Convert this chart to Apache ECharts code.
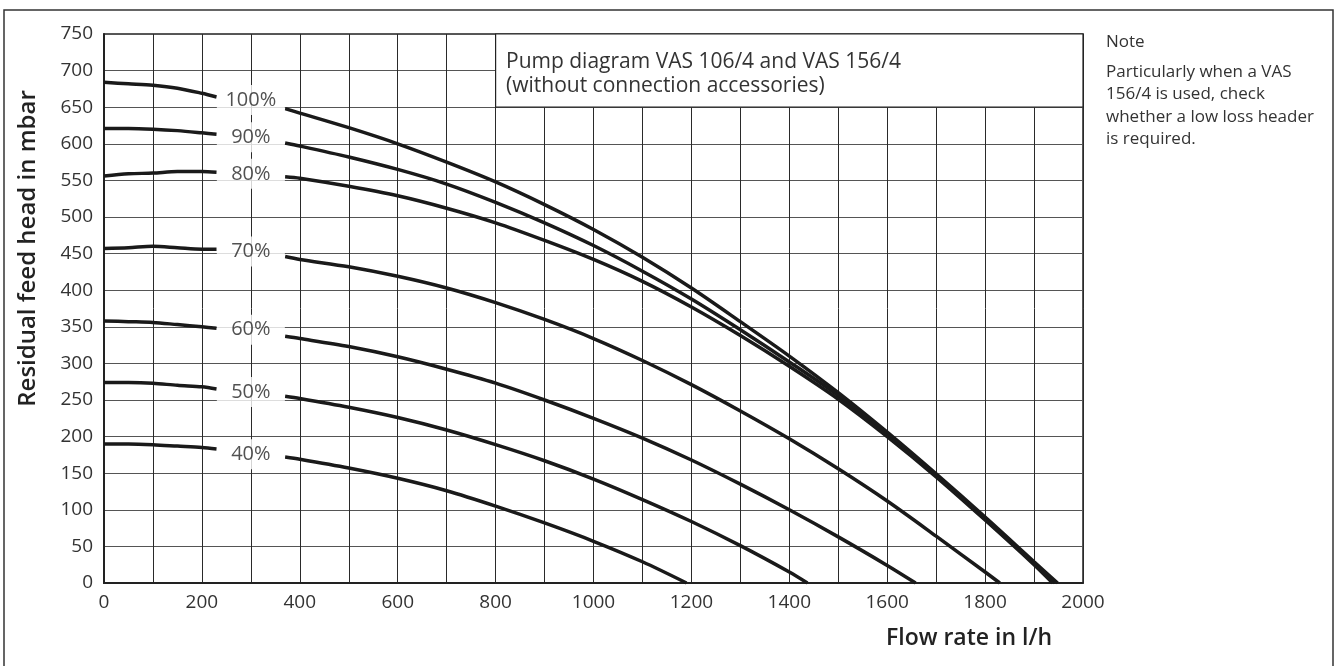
<!DOCTYPE html>
<html><head><meta charset="utf-8">
<script src="https://cdn.jsdelivr.net/npm/echarts@6/dist/echarts.min.js"></script>
<style>html,body{margin:0;padding:0;background:#fff}#c{width:1336px;height:666px}</style>
</head><body><div id="c"></div>
<script>
// ---- data ----
const flowLeft = [0, 50, 100, 150, 200, 230];
const head100L = [684, 682, 680, 676, 669, 664];
const head90L  = [621, 621, 620, 618, 615, 613];
const head80L  = [556, 559, 560, 562, 562, 561];
const head70L  = [457, 458, 460, 458, 456, 456];
const head60L  = [358, 357, 356, 353, 350, 348];
const head50L  = [274, 274, 273, 270, 268, 265];
const head40L  = [190, 190, 189, 187, 185, 183];

const flow100R = [370, 400, 500, 600, 700, 800, 900, 1000, 1100, 1200, 1300, 1400, 1500, 1600, 1700, 1800, 1900, 1948];
const head100R = [648, 642, 622, 600, 575, 548, 517, 483, 445, 403, 357, 310, 260, 206, 149, 90, 29, 0];
const flow90R  = [370, 400, 500, 600, 700, 800, 900, 1000, 1100, 1200, 1300, 1400, 1500, 1600, 1700, 1800, 1900, 1943];
const head90R  = [601, 597, 582, 565, 545, 520, 492, 461, 426, 388, 346, 302, 256, 203, 147, 87, 27, 0];
const flow80R  = [370, 400, 500, 600, 700, 800, 900, 1000, 1100, 1200, 1300, 1400, 1500, 1600, 1700, 1800, 1900, 1938];
const head80R  = [555, 553, 542, 529, 512, 492, 468, 442, 412, 377, 338, 296, 251, 200, 145, 86, 25, 0];
const flow70R  = [370, 400, 500, 600, 700, 800, 900, 1000, 1100, 1200, 1300, 1400, 1500, 1600, 1700, 1800, 1830];
const head70R  = [446, 442, 432, 419, 403, 383, 360, 334, 304, 271, 235, 197, 156, 112, 64, 15, 0];
const flow60R  = [370, 400, 500, 600, 700, 800, 900, 1000, 1100, 1200, 1300, 1400, 1500, 1600, 1658];
const head60R  = [337, 334, 323, 309, 292, 273, 250, 225, 198, 168, 135, 100, 63, 24, 0];
const flow50R  = [370, 400, 500, 600, 700, 800, 900, 1000, 1100, 1200, 1300, 1400, 1437];
const head50R  = [255, 252, 240, 226, 209, 189, 167, 142, 114, 84, 51, 15, 0];
const flow40R  = [370, 400, 500, 600, 700, 800, 900, 1000, 1100, 1190];
const head40R  = [172, 169, 157, 143, 126, 105, 82, 57, 29, 0];

const speedLabels = ['100%', '90%', '80%', '70%', '60%', '50%', '40%'];
const labelFlow = 300;
const labelHead = [660, 609, 559, 453, 346, 261, 176];

const titleLines = ['Pump diagram VAS 106/4 and VAS 156/4', '(without connection accessories)'];
const noteTitle = 'Note';
const noteLines = ['Particularly when a VAS', '156/4 is used, check', 'whether a low loss header', 'is required.'];

// ---- chart ----
const chart = echarts.init(document.getElementById('c'), null, {renderer: 'canvas'});
const curveColor = '#1a1a1a';
function curve(name, flows, heads) {
  return {
    type: 'line', name: name, silent: true, symbol: 'none', showSymbol: false,
    smooth: 0.3, z: 3,
    lineStyle: {color: curveColor, width: 3.5},
    data: flows.map((f, i) => [f, heads[i]])
  };
}
const series = [
  curve('100%', flowLeft, head100L), curve('100%', flow100R, head100R),
  curve('90%', flowLeft, head90L),   curve('90%', flow90R, head90R),
  curve('80%', flowLeft, head80L),   curve('80%', flow80R, head80R),
  curve('70%', flowLeft, head70L),   curve('70%', flow70R, head70R),
  curve('60%', flowLeft, head60L),   curve('60%', flow60R, head60R),
  curve('50%', flowLeft, head50L),   curve('50%', flow50R, head50R),
  curve('40%', flowLeft, head40L),   curve('40%', flow40R, head40R),
  {
    type: 'scatter', name: 'labels', silent: true, symbolSize: 0, z: 4,
    data: labelHead.map((h, i) => ({value: [labelFlow, h], name: speedLabels[i]})),
    label: {
      show: true, position: 'inside', formatter: p => p.name,
      color: '#262626', fontFamily: 'Open Sans', fontSize: 20,
      backgroundColor: '#fff', width: 68, height: 30, lineHeight: 30,
      align: 'center', verticalAlign: 'middle'
    },
    markArea: {
      silent: true,
      itemStyle: {color: '#fff', opacity: 1, borderColor: '#222', borderWidth: 1.2},
      label: {show: false},
      data: [[{coord: [800, 650]}, {coord: [2000, 750]}]]
    }
  }
];

const option = {
  animation: false,
  backgroundColor: '#fff',
  grid: {left: 104, top: 34, right: 253, bottom: 83, show: true, borderColor: '#222', borderWidth: 1.5, backgroundColor: 'transparent'},
  xAxis: {
    type: 'value', min: 0, max: 2000, interval: 200,
    name: 'Flow rate in l/h', nameLocation: 'end', nameGap: 0,
    nameTextStyle: {fontFamily: 'Open Sans', fontWeight: 600, fontSize: 23, color: '#222',
      align: 'right', verticalAlign: 'top', padding: [44, 31, 0, 0]},
    axisLine: {show: true, onZero: false, lineStyle: {color: '#222', width: 2}},
    axisTick: {show: false},
    axisLabel: {color: '#333', fontFamily: 'Open Sans', fontSize: 19, margin: 10, formatter: v => String(v)},
    splitLine: {show: true, lineStyle: {color: '#2a2a2a', width: 1}},
    minorTick: {show: false, splitNumber: 2},
    minorSplitLine: {show: true, lineStyle: {color: '#2a2a2a', width: 1}}
  },
  yAxis: {
    type: 'value', min: 0, max: 750, interval: 50,
    name: 'Residual feed head in mbar', nameLocation: 'middle', nameGap: 64,
    nameTextStyle: {fontFamily: 'Open Sans', fontWeight: 600, fontSize: 24, color: '#222',
      padding: [0, 0, 0, 120]},
    axisLine: {show: true, lineStyle: {color: '#222', width: 2}},
    axisTick: {show: false},
    axisLabel: {color: '#333', fontFamily: 'Open Sans', fontSize: 19, margin: 11, formatter: v => String(v)},
    splitLine: {show: true, lineStyle: {color: '#555', width: 1}}
  },
  graphic: [
    {type: 'rect', silent: true, z: -1, shape: {x: 4, y: 10, width: 1329, height: 700},
     style: {fill: 'none', stroke: '#333', lineWidth: 1.5}},
    {type: 'text', silent: true, z: 10, style: {x: 506, y: 50, text: titleLines.join('\n'),
      font: '21px "Open Sans"', lineHeight: 24, fill: '#333', textVerticalAlign: 'top'}},
    {type: 'text', silent: true, z: 10, style: {x: 1106, y: 31, text: noteTitle,
      font: '17px "Open Sans"', lineHeight: 22, fill: '#333', textVerticalAlign: 'top'}},
    {type: 'text', silent: true, z: 10, style: {x: 1106, y: 60.5, text: noteLines.join('\n'),
      font: '17px "Open Sans"', lineHeight: 22.5, fill: '#333', textVerticalAlign: 'top'}}
  ],
  series: series
};
chart.setOption(option);
</script></body></html>
